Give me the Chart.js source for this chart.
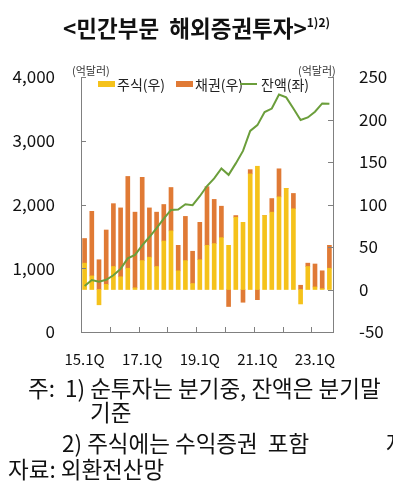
<!DOCTYPE html>
<html>
<head>
<meta charset="utf-8">
<script src="https://cdn.jsdelivr.net/npm/chart.js@4"></script>
<style>
  body { margin: 0; background: #fff; }
  #wrap { position: relative; width: 393px; height: 500px; overflow: hidden; font-family: "Noto Sans CJK KR", sans-serif; color: #111; }
  #title { position: absolute; left: 0; top: 6px; width: 393px; text-align: center; font-size: 22.5px; font-weight: bold; line-height: 32px; }
  #title sup { font-size: 12px; vertical-align: 10px; }
  #box { position: absolute; left: 0; top: 0; width: 393px; height: 372px; }
  .unit { position: absolute; top: 62px; font-size: 11px; color: #333; }
  .lg { position: absolute; top: 74px; font-size: 14px; line-height: 20px; color: #222; }
  .sw { position: absolute; top: 81px; height: 6px; width: 17px; }
  .note { position: absolute; font-size: 22.5px; line-height: 26px; color: #111; white-space: nowrap; }
</style>
</head>
<body>
<div id="wrap">
  <div id="box"><canvas id="chart"></canvas></div>
  <div id="title">&lt;민간부문&nbsp; 해외증권투자&gt;<sup>1)2)</sup></div>
  <div class="unit" style="left:72px">(억달러)</div>
  <div class="unit" style="left:298px">(억달러)</div>

  <div class="sw" style="left:98px;background:#F5C21B"></div>
  <div class="lg" style="left:117px">주식(우)</div>
  <div class="sw" style="left:176px;background:#E07A35"></div>
  <div class="lg" style="left:195px">채권(우)</div>
  <div class="sw" style="left:240px;top:83px;height:2px;background:#6B9E3B"></div>
  <div class="lg" style="left:261px">잔액(좌)</div>

  <div class="note" style="left:28px;top:374px">주:&nbsp; 1) 순투자는 분기중, 잔액은 분기말</div>
  <div class="note" style="left:90px;top:398px">기준</div>
  <div class="note" style="left:62px;top:429px">2) 주식에는 수익증권&nbsp; 포함</div>
  <div class="note" style="left:386px;top:429px">자</div>
  <div class="note" style="left:8px;top:455px">자료: 외환전산망</div>
</div>
<script>
// 15.1Q ~ 23.3Q
var quarters = [
  "15.1Q","15.2Q","15.3Q","15.4Q","16.1Q","16.2Q","16.3Q","16.4Q",
  "17.1Q","17.2Q","17.3Q","17.4Q","18.1Q","18.2Q","18.3Q","18.4Q",
  "19.1Q","19.2Q","19.3Q","19.4Q","20.1Q","20.2Q","20.3Q","20.4Q",
  "21.1Q","21.2Q","21.3Q","21.4Q","22.1Q","22.2Q","22.3Q","22.4Q",
  "23.1Q","23.2Q","23.3Q"
];
// 순투자 (억달러, 우축)
var stocks = [31, 16, -18, 6, 27, 15, 25, 2, 34, 38, 27, 57, 69, 22, 34, 7, 35, 52, 54, 61,
              52, 85, 79, 136, 145, 87, 91, 109, 119, 95, -17, 27, 3, 1, 25];
var bonds = [29, 76, 35, 64, 74, 81, 108, 89, 98, 58, 64, 43, 51, 30, 52, 38, 44, 69, 52, 37,
             -20, 2, -15, 5, -12, 0, 16, 33, 0, 18, 5, 4, 27, 21, 27];
// 잔액 (억달러, 좌축)
var balance = [720, 815, 790, 820, 890, 990, 1155, 1210, 1360, 1490, 1630, 1780, 1915, 1920, 2005, 1990,
               2130, 2290, 2410, 2565, 2465, 2645, 2840, 3155, 3245, 3450, 3505, 3725, 3680, 3505,
               3325, 3365, 3455, 3585, 3580];
var leftTicks = [0, 1000, 2000, 3000, 4000];
var rightTicks = [-50, 0, 50, 100, 150, 200, 250];

var axisColor = '#808080';
var tickFont = { family: "'Noto Sans CJK KR', sans-serif", size: 17 };

var inwardTicks = {
  id: 'inwardTicks',
  afterDraw: function (chart) {
    var ctx = chart.ctx, a = chart.chartArea, s = chart.scales;
    ctx.save();
    ctx.strokeStyle = axisColor;
    ctx.lineWidth = 1;
    ctx.beginPath();
    leftTicks.forEach(function (v) {
      var p = Math.round(s.y.getPixelForValue(v)) + 0.5;
      ctx.moveTo(a.left, p); ctx.lineTo(a.left + 5, p);
    });
    rightTicks.forEach(function (v) {
      var p = Math.round(s.y1.getPixelForValue(v)) + 0.5;
      ctx.moveTo(a.right - 5, p); ctx.lineTo(a.right, p);
    });
    for (var i = 4; i < quarters.length; i += 4) {
      var p = Math.round((s.x.getPixelForValue(i - 1) + s.x.getPixelForValue(i)) / 2) + 0.5;
      ctx.moveTo(p, a.bottom); ctx.lineTo(p, a.bottom - 5);
    }
    ctx.stroke();
    ctx.restore();
  }
};

new Chart(document.getElementById('chart'), {
  type: 'bar',
  data: {
    labels: quarters,
    datasets: [
      { type: 'line', label: '잔액(좌)', data: balance, yAxisID: 'y', borderColor: '#6B9E3B',
        borderWidth: 2, pointRadius: 0, tension: 0, order: 0 },
      { label: '주식(우)', data: stocks, yAxisID: 'y1', backgroundColor: '#F5C21B', barThickness: 4, stack: 's', order: 1 },
      { label: '채권(우)', data: bonds, yAxisID: 'y1', backgroundColor: '#E07A35', barThickness: 4, stack: 's', order: 1 }
    ]
  },
  options: {
    responsive: true,
    maintainAspectRatio: false,
    animation: false,
    layout: { padding: { top: 77 } },
    plugins: { legend: { display: false }, tooltip: { enabled: false } },
    scales: {
      x: {
        stacked: true,
        grid: { display: false },
        border: { display: true, color: axisColor },
        ticks: {
          autoSkip: false, maxRotation: 0, padding: 10, color: '#111',
          font: { family: "'Noto Sans CJK KR', sans-serif", size: 15 },
          callback: function (v, i) { return i % 8 === 0 ? quarters[i] : ''; }
        },
        afterFit: function (s) { s.height = 40; }
      },
      y: {
        position: 'left', min: 0, max: 4000,
        grid: { display: false },
        border: { display: true, color: axisColor },
        ticks: { stepSize: 1000, padding: 18, color: '#111', font: tickFont,
          callback: function (v) { return v.toLocaleString('en-US'); } },
        afterFit: function (s) { s.width = 81; }
      },
      y1: {
        position: 'right', stacked: true, min: -50, max: 250,
        grid: { display: false },
        border: { display: true, color: axisColor },
        ticks: { stepSize: 50, padding: 18, color: '#111', font: tickFont },
        afterFit: function (s) { s.width = 60; }
      }
    }
  },
  plugins: [inwardTicks]
});
</script>
</body>
</html>
